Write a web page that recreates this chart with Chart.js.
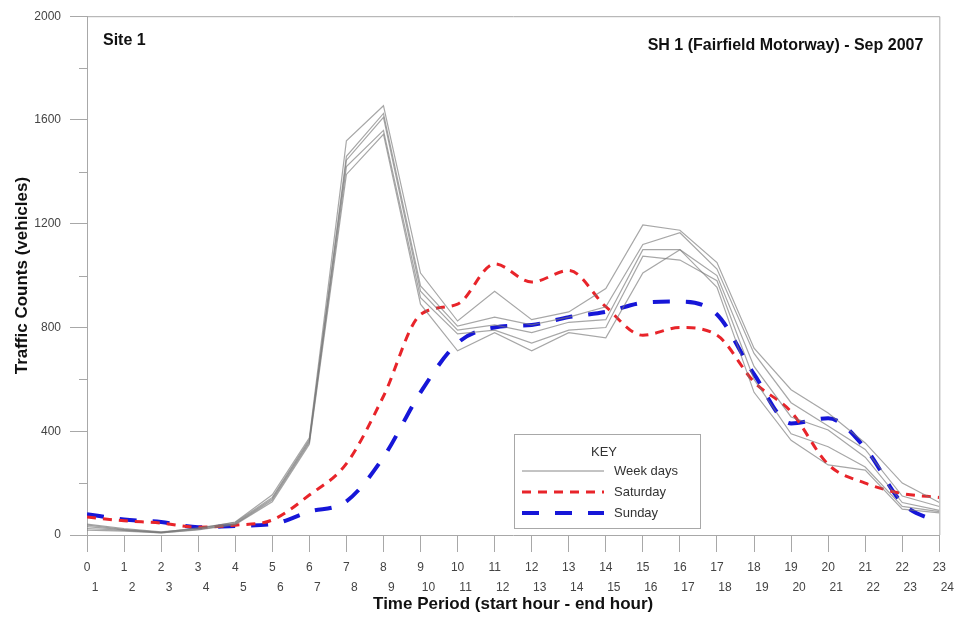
<!DOCTYPE html>
<html>
<head>
<meta charset="utf-8">
<script src="https://cdn.jsdelivr.net/npm/chart.js@4"></script>
<style>
	html, body { margin: 0; padding: 0; background: #fff; }
	#wrap { width: 954px; height: 618px; }
</style>
</head>
<body>
<div id="wrap"><canvas id="chart"></canvas></div>
<script>
var hours = [0, 1, 2, 3, 4, 5, 6, 7, 8, 9, 10, 11, 12, 13, 14, 15, 16, 17, 18, 19, 20, 21, 22, 23];

// five week days (Mon-Fri), vehicles per hour
var weekday1 = [42, 25, 12, 25, 50, 155, 375, 1520, 1655, 1010, 825, 940, 830, 860, 950, 1195, 1175, 1050, 720, 560, 470, 355, 200, 125];
var weekday2 = [38, 22, 10, 28, 48, 145, 368, 1460, 1625, 960, 805, 840, 810, 840, 880, 1120, 1165, 1025, 700, 510, 420, 330, 150, 110];
var weekday3 = [32, 20, 10, 25, 45, 140, 362, 1445, 1610, 940, 790, 810, 780, 820, 830, 1100, 1100, 1000, 650, 455, 405, 300, 125, 95];
var weekday4 = [25, 18, 8, 22, 42, 135, 356, 1420, 1560, 915, 775, 790, 740, 790, 800, 1075, 1060, 980, 600, 390, 340, 262, 110, 90];
var weekday5 = [19, 15, 8, 20, 40, 128, 350, 1390, 1545, 890, 710, 780, 710, 780, 760, 1010, 1100, 955, 550, 365, 270, 250, 100, 85];
var saturday = [69, 55, 46, 30, 38, 58, 154, 275, 535, 850, 890, 1045, 975, 1020, 880, 770, 800, 770, 590, 475, 272, 200, 160, 145];
var sunday = [80, 60, 50, 30, 35, 42, 90, 130, 300, 550, 740, 800, 810, 840, 860, 895, 900, 850, 620, 430, 450, 335, 123, 48];

var yMajorTicks = [0, 400, 800, 1200, 1600, 2000];

var FONT = "'Liberation Sans', Arial, sans-serif";
var GREY = "#a8a8a8";

function toPoints(values) {
	return values.map(function (v, i) {
		return { x: hours[i], y: v };
	});
}

function weekdayLine(values, label) {
	return {
		label: label,
		data: toPoints(values),
		borderColor: "rgba(120,120,120,0.65)",
		borderWidth: 1.2,
		pointRadius: 0,
		tension: 0,
		fill: false,
	};
}

// extra drawing: frame, minor ticks, texts and the KEY box
var decorations = {
	id: "decorations",
	afterDraw: function (chart) {
		var ctx = chart.ctx;
		var area = chart.chartArea;
		var y = chart.scales.y;
		ctx.save();

		// top and right frame
		ctx.strokeStyle = GREY;
		ctx.lineWidth = 1;
		ctx.beginPath();
		ctx.moveTo(area.left, area.top + 0.5);
		ctx.lineTo(area.right + 0.5, area.top + 0.5);
		ctx.lineTo(area.right + 0.5, area.bottom);
		ctx.stroke();

		// minor ticks on the y axis
		for (var v = 200; v < 2000; v += 400) {
			var py = Math.round(y.getPixelForValue(v)) + 0.5;
			ctx.beginPath();
			ctx.moveTo(area.left - 8, py);
			ctx.lineTo(area.left, py);
			ctx.stroke();
		}

		// labels in the plot
		ctx.fillStyle = "#111";
		ctx.font = "bold 16px " + FONT;
		ctx.textBaseline = "middle";
		ctx.textAlign = "left";
		ctx.fillText("Site 1", area.left + 16, 41);
		ctx.textAlign = "right";
		ctx.fillText("SH 1 (Fairfield Motorway) - Sep 2007", area.right - 16, 46);

		// KEY box
		var bx = 514, by = 434, bw = 186, bh = 94;
		ctx.strokeStyle = GREY;
		ctx.lineWidth = 1;
		ctx.strokeRect(bx + 0.5, by + 0.5, bw, bh);
		ctx.fillStyle = "#333";
		ctx.font = "13px " + FONT;
		ctx.textAlign = "center";
		ctx.fillText("KEY", bx + 90, by + 18);

		var keys = [
			{ text: "Week days", color: "#888", width: 1, dash: [] },
			{ text: "Saturday", color: "#e8242a", width: 3, dash: [9, 7] },
			{ text: "Sunday", color: "#1616d8", width: 4, dash: [17, 16] },
		];
		keys.forEach(function (k, i) {
			var ly = by + 37 + i * 21;
			ctx.strokeStyle = k.color;
			ctx.lineWidth = k.width;
			ctx.setLineDash(k.dash);
			ctx.beginPath();
			ctx.moveTo(bx + 8, ly);
			ctx.lineTo(bx + 90, ly);
			ctx.stroke();
			ctx.setLineDash([]);
			ctx.textAlign = "left";
			ctx.fillStyle = "#333";
			ctx.fillText(k.text, bx + 100, ly);
		});

		ctx.restore();
	},
};

var ctx = document.getElementById("chart").getContext("2d");
new Chart(ctx, {
	type: "line",
	data: {
		datasets: [
			weekdayLine(weekday1, "Mon"),
			weekdayLine(weekday2, "Tue"),
			weekdayLine(weekday3, "Wed"),
			weekdayLine(weekday4, "Thu"),
			weekdayLine(weekday5, "Fri"),
			{
				label: "Saturday",
				data: toPoints(saturday),
				borderColor: "#e8242a",
				borderWidth: 3,
				borderDash: [9, 7],
				pointRadius: 0,
				cubicInterpolationMode: "monotone",
				fill: false,
			},
			{
				label: "Sunday",
				data: toPoints(sunday),
				borderColor: "#1616d8",
				borderWidth: 4,
				borderDash: [17, 16],
				pointRadius: 0,
				cubicInterpolationMode: "monotone",
				fill: false,
			},
		],
	},
	options: {
		responsive: true,
		maintainAspectRatio: false,
		animation: false,
		layout: {
			padding: { top: 15, right: 14, left: 0, bottom: 0 },
		},
		plugins: {
			legend: { display: false },
			tooltip: { enabled: false },
		},
		scales: {
			x: {
				type: "linear",
				position: "bottom",
				weight: 0,
				min: 0,
				max: 23,
				afterFit: function (scale) {
					scale.height = 40;
				},
				border: { display: true, color: GREY, width: 1 },
				grid: {
					display: true,
					drawOnChartArea: false,
					drawTicks: true,
					tickLength: 17,
					color: GREY,
				},
				ticks: {
					stepSize: 1,
					autoSkip: false,
					maxRotation: 0,
					padding: 8,
					color: "#444",
					font: { family: FONT, size: 12 },
				},
			},
			x2: {
				type: "linear",
				position: "bottom",
				weight: 1,
				min: 0,
				max: 23,
				afterFit: function (scale) {
					scale.height = 43;
				},
				border: { display: false },
				grid: { display: false, drawTicks: false },
				ticks: {
					stepSize: 1,
					autoSkip: false,
					maxRotation: 0,
					padding: 5,
					labelOffset: 8,
					color: "#444",
					font: { family: FONT, size: 12 },
					callback: function (value) {
						return value + 1;
					},
				},
				title: {
					display: true,
					text: "Time Period (start hour - end hour)",
					color: "#111",
					font: { family: FONT, size: 17, weight: "bold" },
					padding: { top: 0, bottom: 3 },
				},
			},
			y: {
				min: 0,
				max: 2000,
				afterFit: function (scale) {
					scale.width = 87;
				},
				afterBuildTicks: function (scale) {
					scale.ticks = yMajorTicks.map(function (v) {
						return { value: v };
					});
				},
				border: { display: true, color: GREY, width: 1 },
				grid: {
					display: true,
					drawOnChartArea: false,
					drawTicks: true,
					tickLength: 17,
					color: GREY,
				},
				ticks: {
					padding: 9,
					color: "#444",
					font: { family: FONT, size: 12 },
					callback: function (value) {
						return String(value);
					},
				},
				title: {
					display: true,
					text: "Traffic Counts (vehicles)",
					color: "#111",
					font: { family: FONT, size: 17, weight: "bold" },
					padding: { top: 12, bottom: 0 },
				},
			},
		},
	},
	plugins: [decorations],
});
</script>
</body>
</html>
